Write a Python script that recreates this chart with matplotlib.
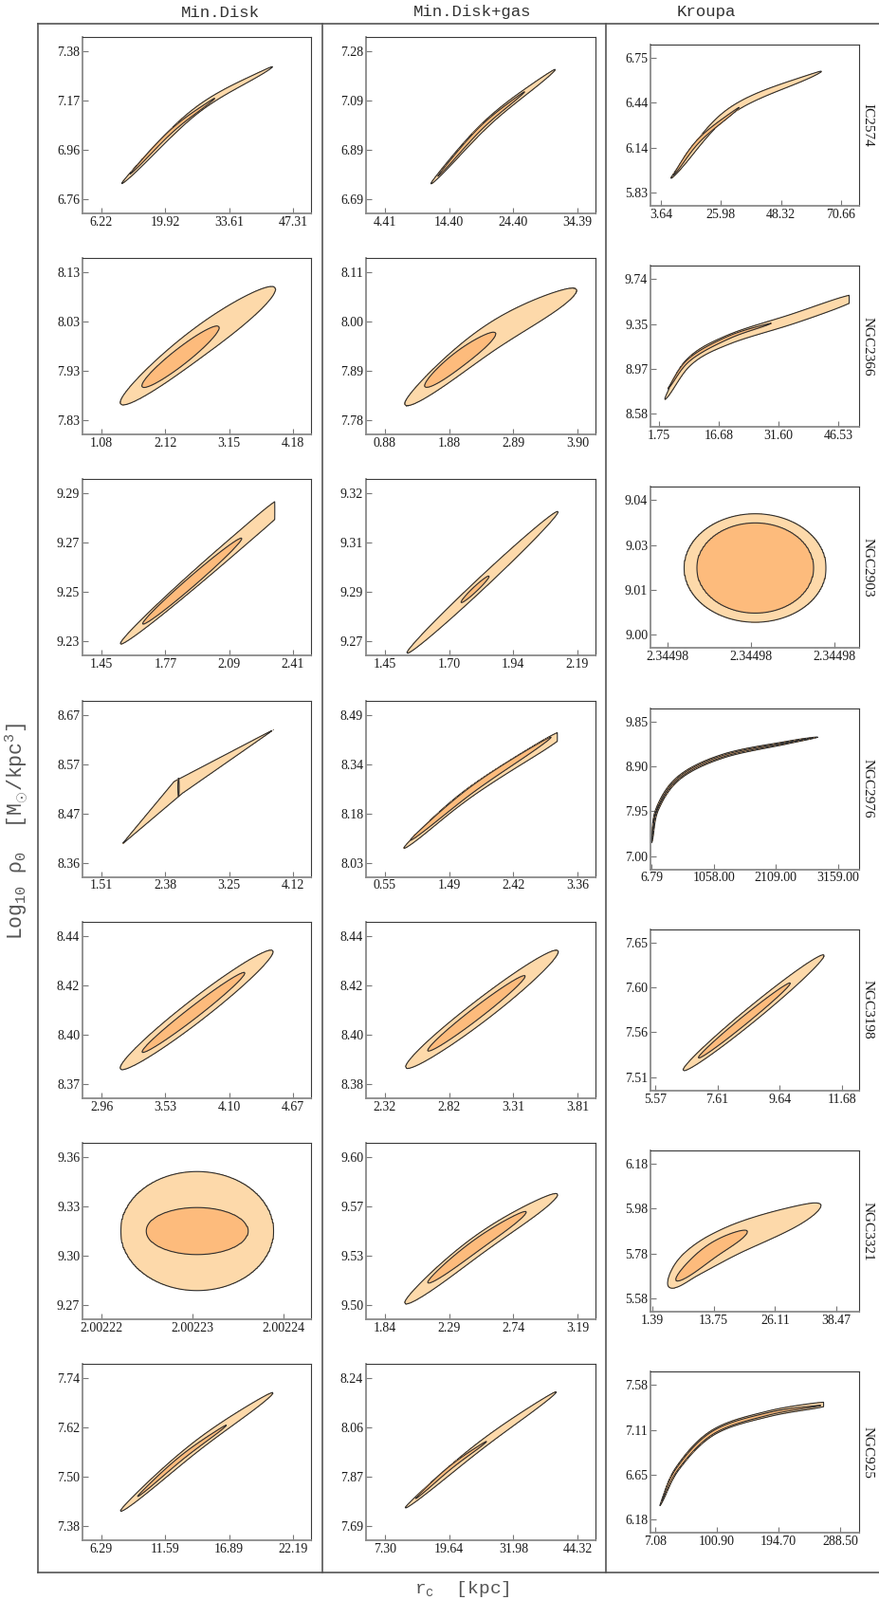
import numpy as np
import matplotlib.pyplot as plt
from matplotlib.lines import Line2D

plt.rcParams['font.family'] = ['Liberation Serif', 'DejaVu Serif']
plt.rcParams['mathtext.fontset'] = 'custom'
plt.rcParams['mathtext.rm'] = 'Liberation Mono'
plt.rcParams['mathtext.it'] = 'Liberation Mono'

models = ['Min.Disk', 'Min.Disk+gas', 'Kroupa']
galaxies = ['IC2574', 'NGC2366', 'NGC2903', 'NGC2976', 'NGC3198', 'NGC3321', 'NGC925']

# tick labels, [row][column]
xtick_labels = [
    [['6.22', '19.92', '33.61', '47.31'], ['4.41', '14.40', '24.40', '34.39'], ['3.64', '25.98', '48.32', '70.66']],
    [['1.08', '2.12', '3.15', '4.18'], ['0.88', '1.88', '2.89', '3.90'], ['1.75', '16.68', '31.60', '46.53']],
    [['1.45', '1.77', '2.09', '2.41'], ['1.45', '1.70', '1.94', '2.19'], ['2.34498', '2.34498', '2.34498']],
    [['1.51', '2.38', '3.25', '4.12'], ['0.55', '1.49', '2.42', '3.36'], ['6.79', '1058.00', '2109.00', '3159.00']],
    [['2.96', '3.53', '4.10', '4.67'], ['2.32', '2.82', '3.31', '3.81'], ['5.57', '7.61', '9.64', '11.68']],
    [['2.00222', '2.00223', '2.00224'], ['1.84', '2.29', '2.74', '3.19'], ['1.39', '13.75', '26.11', '38.47']],
    [['6.29', '11.59', '16.89', '22.19'], ['7.30', '19.64', '31.98', '44.32'], ['7.08', '100.90', '194.70', '288.50']],
]
ytick_labels = [
    [['6.76', '6.96', '7.17', '7.38'], ['6.69', '6.89', '7.09', '7.28'], ['5.83', '6.14', '6.44', '6.75']],
    [['7.83', '7.93', '8.03', '8.13'], ['7.78', '7.89', '8.00', '8.11'], ['8.58', '8.97', '9.35', '9.74']],
    [['9.23', '9.25', '9.27', '9.29'], ['9.27', '9.29', '9.31', '9.32'], ['9.00', '9.01', '9.03', '9.04']],
    [['8.36', '8.47', '8.57', '8.67'], ['8.03', '8.18', '8.34', '8.49'], ['7.00', '7.95', '8.90', '9.85']],
    [['8.37', '8.40', '8.42', '8.44'], ['8.38', '8.40', '8.42', '8.44'], ['7.51', '7.56', '7.60', '7.65']],
    [['9.27', '9.30', '9.33', '9.36'], ['9.50', '9.53', '9.57', '9.60'], ['5.58', '5.78', '5.98', '6.18']],
    [['7.38', '7.50', '7.62', '7.74'], ['7.69', '7.87', '8.06', '8.24'], ['6.18', '6.65', '7.11', '7.58']],
]
# the NGC2903 Kroupa ticks all print as 2.34498
ngc2903_kroupa_xticks = [2.344978, 2.344980, 2.344982]

# outer (2 sigma) region: ridge points (rc, log rho0), half thickness in log rho0
outer_ridge = [
    [[(10.5, 6.824), (26.5, 7.13), (43.0, 7.316)], [(11.53, 6.75), (20.6, 7.0), (30.97, 7.208)],
     [(7.27, 5.925), (29.4, 6.385), (63.5, 6.659)]],
    [[(1.39, 7.863), (2.62, 7.985), (3.89, 8.099)], [(1.194, 7.814), (2.54, 7.965), (3.885, 8.072)],
     [(3.20, 8.702), (9.31, 9.027), (19.23, 9.220), (35.79, 9.404), (52.0, 9.60)]],
    [[(1.545, 9.229), (1.97, 9.259), (2.40, 9.289)], [(1.534, 9.266), (1.825, 9.29), (2.116, 9.314)],
     [(2.3449784, 9.01986), (2.3449801, 9.01986), (2.3449818, 9.01986)]],
    [[(1.78, 8.397), (2.56, 8.518), (3.88, 8.641)], [(0.824, 8.0745), (1.798, 8.2496), (3.2, 8.44)],
     [(11.6, 7.275), (107, 7.997), (482, 8.666), (1228, 9.12), (2294, 9.40), (2827, 9.52)]],
    [[(3.129, 8.377), (3.81, 8.405), (4.49, 8.433)], [(2.482, 8.3865), (3.07, 8.41), (3.66, 8.434)],
     [(6.486, 7.517), (8.79, 7.577), (11.09, 7.637)]],
    [[(2.0022221, 9.315), (2.0022305, 9.315), (2.0022389, 9.315)], [(1.98, 9.501), (2.515, 9.542), (3.05, 9.575)],
     [(4.72, 5.631), (9.61, 5.738), (17.83, 5.841), (30.19, 5.947), (35.33, 5.997)]],
    [[(7.86, 7.416), (14.2, 7.575), (20.54, 7.705)], [(11.15, 7.757), (25.7, 7.99), (40.3, 8.19)],
     [(14.3, 6.325), (41.7, 6.718), (96.1, 7.089), (180, 7.28), (275, 7.39)]],
]
outer_half = [
    [0.013, 0.013, 0.022],
    [0.028, 0.0285, 0.042],
    [0.0030, 0.00185, 0.01611],
    [0.0150, 0.0150, 0.040],
    [0.0052, 0.0043, 0.0074],
    [0.0362, 0.0062, 0.066],
    [0.012, 0.014, 0.0296],
]
outer_peak = [
    [0.45, 0.5, 0.5],
    [0.55, 0.55, 0.65],
    [0.65, 0.5, 0.5],
    [0.42, 0.6, 0.5],
    [0.5, 0.5, 0.5],
    [0.5, 0.5, 0.35],
    [0.5, 0.5, 0.75],
]
# 2 gives rounded lens shapes, 1 gives straight-sided (kinked) shapes
outer_taper = [
    [2, 2, 2],
    [2, 2, 2],
    [2, 2, 2],
    [1, 2, 2],
    [2, 2, 2],
    [2, 2, 2],
    [2, 2, 2],
]
# rc where the scanned grid stops (flat ends)
grid_edge = [
    [None, None, None],
    [None, None, 49.3],
    [2.32, None, None],
    [None, 3.072, None],
    [None, None, None],
    [None, None, None],
    [None, None, 263.9],
]

# inner (1 sigma) region
inner_ridge = [
    [[(12.3, 6.864), (21.5, 7.05), (30.6, 7.184)], [(12.57, 6.779), (19.4, 6.975), (26.23, 7.12)],
     [(8.23, 5.947), (18.0, 6.19), (32.9, 6.413)]],
    [[(1.74, 7.898), (2.36, 7.959), (2.98, 8.02)], [(1.508, 7.855), (2.06, 7.918), (2.613, 7.975)],
     [(3.9, 8.79), (9.31, 9.045), (19.23, 9.238), (29.9, 9.36)]],
    [[(1.657, 9.2371), (1.905, 9.2545), (2.153, 9.2719)], [(1.743, 9.2832), (1.797, 9.2877), (1.85, 9.2921)],
     [(2.3449787, 9.01986), (2.3449801, 9.01986), (2.3449815, 9.01986)]],
    [[(2.56, 8.498), (2.56, 8.518), (2.56, 8.538)], [(0.916, 8.099), (1.85, 8.262), (2.98, 8.421)],
     [(20, 7.4), (107, 7.997), (482, 8.666), (1228, 9.12), (2294, 9.40), (2780, 9.51)]],
    [[(3.324, 8.385), (3.78, 8.4037), (4.239, 8.4226)], [(2.652, 8.3934), (3.03, 8.4087), (3.404, 8.4238)],
     [(6.98, 7.530), (8.48, 7.569), (9.99, 7.608)]],
    [[(2.0022249, 9.315), (2.0022305, 9.315), (2.0022361, 9.315)], [(2.141, 9.515), (2.49, 9.541), (2.83, 9.563)],
     [(6.17, 5.66), (13.3, 5.79), (20.5, 5.88)]],
    [[(9.28, 7.452), (13.0, 7.548), (16.67, 7.626)], [(13.15, 7.792), (20.0, 7.91), (26.9, 8.006)],
     [(16, 6.36), (41.7, 6.718), (96.1, 7.089), (180, 7.28), (262, 7.37)]],
]
inner_half = [
    [0.0068, 0.0065, 0.011],
    [0.0163, 0.0169, 0.012],
    [0.0019, 0.0008, 0.01339],
    [0.0014, 0.0095, 0.017],
    [0.0027, 0.0023, 0.004],
    [0.0143, 0.0038, 0.032],
    [0.0050, 0.0058, 0.0148],
]

OUTER_C = '#fdd9aa'
INNER_C = '#fdbb7c'
EDGE_C = '#2e2e2e'

W, H = 928, 1687
fig = plt.figure(figsize=(W / 100, H / 100), dpi=100)

col_left = [87, 386, 686]
col_right = [328, 628, 906]
pitch = 233.2
kroupa_xpad = [(11, 19), (9, 22), (18, 26), (1, 22), (5, 18), (2, 24), (5, 20)]


def smooth_path(p, n=100):
    p = np.vstack([2 * p[0] - p[1], p, 2 * p[-1] - p[-2]])
    s = np.linspace(0, 1, n, endpoint=False)[:, None]
    out = []
    for i in range(1, len(p) - 2):
        p0, p1, p2, p3 = p[i - 1], p[i], p[i + 1], p[i + 2]
        out.append(0.5 * (2 * p1 + (-p0 + p2) * s + (2 * p0 - 5 * p1 + 4 * p2 - p3) * s ** 2
                          + (-p0 + 3 * p1 - 3 * p2 + p3) * s ** 3))
    out.append(p[-2][None])
    return np.vstack(out)


def region_field(pts, half, peak, pend, taper, xlim, ylim, axw, axh, cut):
    p = np.asarray(pts, float)
    sx = axw / (xlim[1] - xlim[0])
    sy = axh / (ylim[1] - ylim[0])
    q = np.c_[(p[:, 0] - xlim[0]) * sx, (p[:, 1] - ylim[0]) * sy]
    if taper == 1:
        # straight segments between the ridge points
        c = np.vstack([np.linspace(q[i], q[i + 1], 150, endpoint=False) for i in range(len(q) - 1)] + [q[-1:]])
    else:
        c = smooth_path(q)
    arc = np.r_[0, np.cumsum(np.hypot(*np.diff(c, axis=0).T))]
    t = arc / arc[-1]
    w = half * sy
    m = w + 4
    gx = np.arange(max(c[:, 0].min() - m, 0), min(c[:, 0].max() + m, axw), 0.5)
    gy = np.arange(max(c[:, 1].min() - m, 0), min(c[:, 1].max() + m, axh), 0.5)
    GX, GY = np.meshgrid(gx, gy)
    best = np.full(GX.shape, np.inf)
    bt = np.zeros(GX.shape)
    for (cx, cy), ti in zip(c, t):
        d2 = (GX - cx) ** 2 + (GY - cy) ** 2
        sel = d2 < best
        best[sel] = d2[sel]
        bt[sel] = ti
    tau = np.where(bt < peak, (peak - bt) / peak, (bt - peak) / (1 - peak))
    if taper == 1:
        f = np.sqrt(best) / w + tau
    else:
        expo = np.where(bt < peak, 2.0, pend)
        f = best / w ** 2 + tau ** expo
    X = xlim[0] + gx / sx
    Y = ylim[0] + gy / sy
    if cut is not None:
        f[:, X > cut] = 5.0
    return X, Y, f


for r in range(7):
    for c in range(3):
        L, R = col_left[c], col_right[c]
        if c < 2:
            T = 39 + r * pitch
            B = T + 186
            ypad = (15, 15)
            xpad = (20, 29) if (r, c) == (5, 0) else (20, 19)
        else:
            T = 47 + r * pitch
            B = T + 170
            ypad = (14, 14)
            xpad = kroupa_xpad[r]
        axw, axh = R - L, B - T
        ax = fig.add_axes([L / W, 1 - B / H, axw / W, axh / H])

        xl = xtick_labels[r][c]
        yl = ytick_labels[r][c]
        if (r, c) == (2, 2):
            xt = np.array(ngc2903_kroupa_xticks)
        else:
            xt = np.linspace(float(xl[0]), float(xl[-1]), len(xl))
        yt = np.linspace(float(yl[0]), float(yl[-1]), len(yl))
        sx = (xt[-1] - xt[0]) / (axw - xpad[0] - xpad[1])
        sy = (yt[-1] - yt[0]) / (axh - ypad[0] - ypad[1])
        xlim = (xt[0] - xpad[0] * sx, xt[-1] + xpad[1] * sx)
        ylim = (yt[0] - ypad[0] * sy, yt[-1] + ypad[1] * sy)
        ax.set_xlim(xlim)
        ax.set_ylim(ylim)
        ax.set_xticks(xt)
        ax.set_xticklabels(xl)
        ax.set_yticks(yt)
        ax.set_yticklabels(yl)
        ax.tick_params(direction='in', length=4, width=0.8, color='#777777',
                       labelcolor='#1a1a1a', labelsize=10, pad=2)
        for side in ['left', 'bottom']:
            ax.spines[side].set_color('#8a8a8a')
            ax.spines[side].set_linewidth(1.3)
        for side in ['top', 'right']:
            ax.spines[side].set_color('#3a3a3a')
            ax.spines[side].set_linewidth(0.8)

        cut = grid_edge[r][c]
        pend = 6.0 if cut is not None else 2.0
        X, Y, f = region_field(outer_ridge[r][c], outer_half[r][c], outer_peak[r][c], pend,
                               outer_taper[r][c], xlim, ylim, axw, axh, cut)
        ax.contourf(X, Y, f, levels=[-1, 1], colors=[OUTER_C], zorder=2)
        ax.contour(X, Y, f, levels=[1], colors=EDGE_C, linewidths=0.8, zorder=3)
        X, Y, f = region_field(inner_ridge[r][c], inner_half[r][c], 0.5, 2.0, 2,
                               xlim, ylim, axw, axh, cut)
        ax.contourf(X, Y, f, levels=[-1, 1], colors=[INNER_C], zorder=4)
        ax.contour(X, Y, f, levels=[1], colors=EDGE_C, linewidths=0.8, zorder=5)

        if c == 2:
            fig.text(915 / W, 1 - (T + B) / 2 / H, galaxies[r], rotation=-90,
                     ha='center', va='center', fontsize=11, color='#1a1a1a')

# frame of the grid
frame = [((40, 25), (928, 25)), ((40, 25), (40, 1658)), ((40, 1658), (928, 1658)),
         ((340, 25), (340, 1658)), ((639, 25), (639, 1658))]
for (x0, y0), (x1, y1) in frame:
    fig.add_artist(Line2D([x0 / W, x1 / W], [1 - y0 / H, 1 - y1 / H], transform=fig.transFigure,
                          color='#555555', linewidth=1.2))

for name, xc in zip(models, [232, 498, 745]):
    fig.text(xc / W, 1 - 13 / H, name, ha='center', va='center', fontsize=12.5,
             family=['Liberation Mono', 'DejaVu Sans Mono'], color='#333333')

fig.text(18 / W, 1 - 876 / H, r'Log$_{10}$ $\rho_0$  [M$_{\odot}$/kpc$^3$]', rotation=90,
         ha='center', va='center', fontsize=15.5, family=['Liberation Mono', 'DejaVu Sans Mono'],
         color='#555555')
fig.text(487 / W, 1 - 1675 / H, r'r$_{\rm c}$  [kpc]', ha='center', va='center', fontsize=14,
         family=['Liberation Mono', 'DejaVu Sans Mono'], color='#555555')

fig.savefig('out.png', dpi=100)
